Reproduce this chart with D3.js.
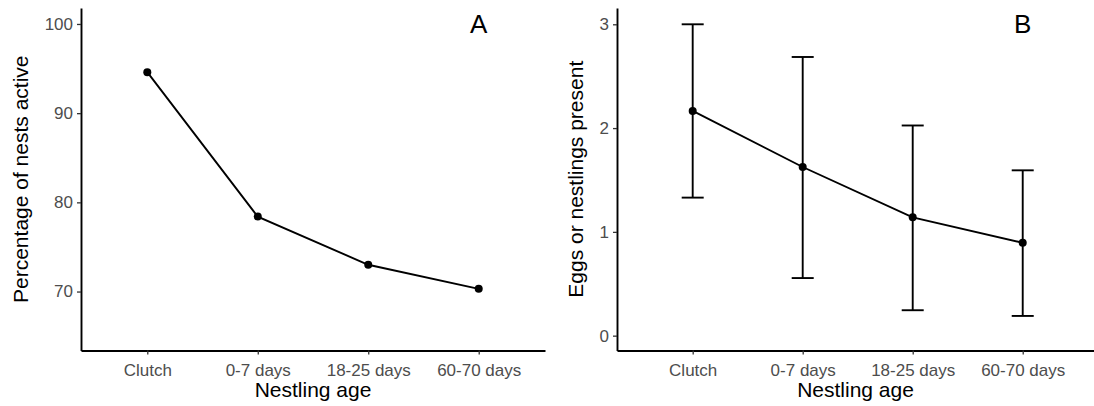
<!DOCTYPE html>
<html>
<head>
<meta charset="utf-8">
<script src="https://cdn.jsdelivr.net/npm/d3@7"></script>
<style>
  body { margin: 0; background: #fff; }
  svg { display: block; font-family: "Liberation Sans", Arial, sans-serif; }
  .axis path, .axis line { stroke: #000; stroke-width: 1.9; }
  .axis .tick line { stroke: #333; stroke-width: 1.3; }
  .axis text { fill: #4d4d4d; font-size: 17px; }
</style>
</head>
<body>
<svg id="chart" width="1094" height="406"></svg>
<script>
// data
var ages = ["Clutch", "0-7 days", "18-25 days", "60-70 days"];

// panel A
var pctActive = [94.6, 78.4, 73.0, 70.3];
var pctTicks = [70, 80, 90, 100];

// panel B (mean with lower / upper bar)
var eggsMean = [2.165, 1.625, 1.14, 0.895];
var eggsLow = [1.33, 0.555, 0.245, 0.19];
var eggsHigh = [3.0, 2.685, 2.025, 1.593];
var eggsTicks = [0, 1, 2, 3];

var svg = d3.select("#chart");
var plotTop = 8, plotBottom = 350.5;

function drawPanel(opt) {
    var x = d3.scalePoint()
        .domain(ages)
        .range([opt.left, opt.right])
        .padding(opt.padding)
        .align(opt.align);

    var y = d3.scaleLinear()
        .domain(opt.ydomain)
        .range([plotBottom, plotTop]);

    var xAxis = d3.axisBottom(x).tickSizeInner(4).tickSizeOuter(0).tickPadding(5);
    var yAxis = d3.axisLeft(y)
        .tickValues(opt.yticks)
        .tickFormat(d3.format("d"))
        .tickSizeInner(4).tickSizeOuter(0).tickPadding(4);

    svg.append("g")
        .attr("class", "axis")
        .attr("transform", "translate(0," + plotBottom + ")")
        .call(xAxis)
        .call(g => g.selectAll("text").attr("dy", "0.95em"));

    svg.append("g")
        .attr("class", "axis")
        .attr("transform", "translate(" + opt.left + ",0)")
        .call(yAxis);

    // error bars
    if (opt.low) {
        var eb = svg.append("g").attr("stroke", "#000").attr("stroke-width", 1.9).attr("fill", "none");
        ages.forEach(function (a, i) {
            var cx = x(a);
            eb.append("line").attr("x1", cx).attr("x2", cx)
                .attr("y1", y(opt.low[i])).attr("y2", y(opt.high[i]));
            eb.append("line").attr("x1", cx - 11).attr("x2", cx + 11)
                .attr("y1", y(opt.low[i])).attr("y2", y(opt.low[i]));
            eb.append("line").attr("x1", cx - 11).attr("x2", cx + 11)
                .attr("y1", y(opt.high[i])).attr("y2", y(opt.high[i]));
        });
    }

    var line = d3.line()
        .x(function (d, i) { return x(ages[i]); })
        .y(function (d) { return y(d); });

    svg.append("path")
        .datum(opt.values)
        .attr("d", line)
        .attr("fill", "none")
        .attr("stroke", "#000")
        .attr("stroke-width", 1.9);

    svg.selectAll(null)
        .data(opt.values)
        .enter()
        .append("circle")
        .attr("cx", function (d, i) { return x(ages[i]); })
        .attr("cy", function (d) { return y(d); })
        .attr("r", 4)
        .attr("fill", "#000");

    // panel letter
    svg.append("text")
        .attr("x", x(ages[3]))
        .attr("y", y(opt.letterAt))
        .attr("text-anchor", "middle")
        .attr("dominant-baseline", "central")
        .style("font-size", "26px")
        .text(opt.letter);

    // axis titles
    svg.append("text")
        .attr("x", (opt.left + opt.right) / 2)
        .attr("y", 397)
        .attr("text-anchor", "middle")
        .style("font-size", "21px")
        .text("Nestling age");

    svg.append("text")
        .attr("transform", "translate(" + opt.titleX + "," + ((plotTop + plotBottom) / 2) + ") rotate(-90)")
        .attr("text-anchor", "middle")
        .attr("dominant-baseline", "central")
        .style("font-size", "21px")
        .text(opt.ytitle);
}

drawPanel({
    left: 81, right: 545, padding: 0.6, align: 0.5,
    ydomain: [63.39, 101.79], yticks: pctTicks,
    values: pctActive, letter: "A", letterAt: 100,
    ytitle: "Percentage of nests active", titleX: 20
});

drawPanel({
    left: 617, right: 1094, padding: 0.668, align: 0.515,
    ydomain: [-0.143, 3.157], yticks: eggsTicks,
    values: eggsMean, low: eggsLow, high: eggsHigh, letter: "B", letterAt: 3,
    ytitle: "Eggs or nestlings present", titleX: 575
});
</script>
</body>
</html>
